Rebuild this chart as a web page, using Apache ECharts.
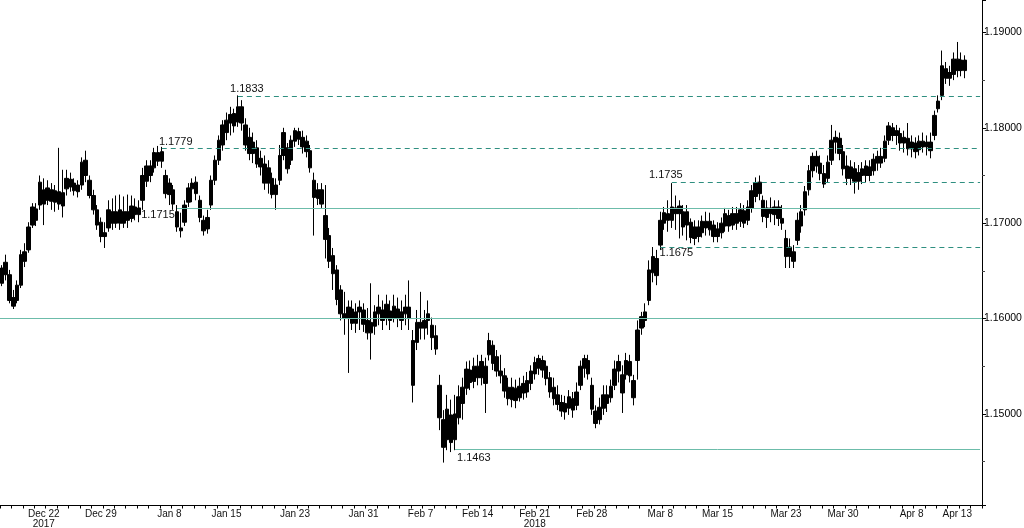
<!DOCTYPE html>
<html><head><meta charset="utf-8">
<script src="https://cdn.jsdelivr.net/npm/echarts@6/dist/echarts.min.js"></script>
<style>html,body{margin:0;padding:0;background:#fff;overflow:hidden}#c{width:1024px;height:528px}</style>
</head><body><div id="c"></div>
<script>
// ---- data ----
const opens=[
1.1637,1.1659,1.1646,1.1622,1.1619,1.1635,1.1660,1.1672,1.1698,1.1715,
1.1719,1.1735,1.1724,1.1735,1.1722,1.1733,1.1718,1.1736,1.1746,1.1742,
1.1733,1.1740,1.1766,1.1745,1.1729,1.1714,1.1701,1.1686,1.1695,1.1712,
1.1700,1.1714,1.1700,1.1712,1.1705,1.1717,1.1709,1.1724,1.1744,1.1760,
1.1758,1.1774,1.1765,1.1750,1.1730,1.1735,1.1712,1.1695,1.1701,1.1722,
1.1736,1.1743,1.1724,1.1703,1.1694,1.1719,1.1745,1.1766,1.1782,1.1795,
1.1805,1.1815,1.1806,1.1822,1.1803,1.1790,1.1773,1.1779,1.1768,1.1762,
1.1742,1.1747,1.1730,1.1745,1.1771,1.1779,1.1766,1.1786,1.1796,1.1790,
1.1786,1.1776,1.1745,1.1726,1.1735,1.1708,1.1687,1.1666,1.1651,1.1630,
1.1605,1.1600,1.1610,1.1595,1.1607,1.1609,1.1598,1.1585,1.1592,1.1605,
1.1609,1.1600,1.1608,1.1600,1.1610,1.1598,1.1605,1.1612,1.1577,1.1575,
1.1596,1.1590,1.1598,1.1593,1.1582,1.1530,1.1494,1.1473,1.1499,1.1473,
1.1496,1.1511,1.1527,1.1546,1.1534,1.1550,1.1538,1.1550,1.1562,1.1572,
1.1560,1.1545,1.1540,1.1528,1.1515,1.1527,1.1517,1.1522,1.1523,1.1532,
1.1542,1.1548,1.1556,1.1550,1.1538,1.1528,1.1520,1.1512,1.1502,1.1506,
1.1516,1.1509,1.1530,1.1548,1.1556,1.1530,1.1503,1.1494,1.1506,1.1520,
1.1517,1.1530,1.1545,1.1541,1.1541,1.1555,1.1535,1.1556,1.1590,1.1598,
1.1619,1.1648,1.1663,1.1677,1.1700,1.1710,1.1703,1.1716,1.1710,1.1712,
1.1698,1.1701,1.1684,1.1696,1.1690,1.1702,1.1693,1.1698,1.1686,1.1690,
1.1697,1.1708,1.1698,1.1710,1.1702,1.1713,1.1703,1.1716,1.1728,1.1743,
1.1724,1.1706,1.1716,1.1709,1.1717,1.1705,1.1684,1.1665,1.1670,1.1682,
1.1697,1.1714,1.1735,1.1755,1.1770,1.1763,1.1752,1.1747,1.1766,1.1785,
1.1789,1.1775,1.1760,1.1747,1.1757,1.1744,1.1750,1.1750,1.1759,1.1755,
1.1763,1.1770,1.1768,1.1787,1.1800,1.1792,1.1794,1.1784,1.1789,1.1778,
1.1784,1.1777,1.1786,1.1780,1.1785,1.1792,1.1820,1.1834,1.1862,1.1852,
1.1856,1.1872,1.1860,1.1871];
const closes=[
1.1653,1.1646,1.1619,1.1613,1.1635,1.1667,1.1670,1.1696,1.1717,1.1703,
1.1743,1.1720,1.1737,1.1723,1.1734,1.1720,1.1732,1.1747,1.1738,1.1734,
1.1740,1.1764,1.1750,1.1729,1.1714,1.1698,1.1686,1.1690,1.1714,1.1700,
1.1712,1.1700,1.1712,1.1703,1.1718,1.1709,1.1716,1.1750,1.1760,1.1750,
1.1774,1.1765,1.1775,1.1731,1.1742,1.1720,1.1696,1.1692,1.1719,1.1737,
1.1742,1.1731,1.1706,1.1692,1.1706,1.1745,1.1766,1.1787,1.1803,1.1808,
1.1814,1.1802,1.1822,1.1805,1.1782,1.1773,1.1785,1.1762,1.1759,1.1742,
1.1758,1.1730,1.1740,1.1771,1.1795,1.1757,1.1787,1.1797,1.1788,1.1780,
1.1775,1.1758,1.1727,1.1735,1.1720,1.1683,1.1660,1.1647,1.1620,1.1605,
1.1600,1.1612,1.1595,1.1607,1.1612,1.1594,1.1585,1.1596,1.1607,1.1612,
1.1598,1.1615,1.1598,1.1613,1.1600,1.1607,1.1612,1.1600,1.1530,1.1596,
1.1590,1.1598,1.1605,1.1580,1.1568,1.1496,1.1465,1.1505,1.1470,1.1500,
1.1518,1.1528,1.1547,1.1533,1.1550,1.1538,1.1555,1.1532,1.1577,1.1553,
1.1545,1.1540,1.1524,1.1516,1.1528,1.1514,1.1529,1.1532,1.1535,1.1545,
1.1554,1.1558,1.1546,1.1537,1.1523,1.1516,1.1510,1.1503,1.1511,1.1518,
1.1504,1.1523,1.1550,1.1558,1.1542,1.1505,1.1490,1.1507,1.1520,1.1511,
1.1529,1.1547,1.1555,1.1522,1.1556,1.1540,1.1517,1.1588,1.1602,1.1607,
1.1651,1.1665,1.1645,1.1703,1.1711,1.1703,1.1717,1.1710,1.1718,1.1696,
1.1712,1.1685,1.1696,1.1686,1.1702,1.1695,1.1702,1.1686,1.1694,1.1700,
1.1710,1.1697,1.1710,1.1700,1.1714,1.1700,1.1717,1.1734,1.1742,1.1731,
1.1707,1.1716,1.1710,1.1717,1.1705,1.1700,1.1665,1.1675,1.1660,1.1703,
1.1712,1.1733,1.1755,1.1770,1.1760,1.1752,1.1741,1.1764,1.1787,1.1790,
1.1773,1.1757,1.1747,1.1759,1.1744,1.1753,1.1757,1.1760,1.1750,1.1767,
1.1770,1.1763,1.1786,1.1802,1.1792,1.1797,1.1784,1.1790,1.1778,1.1785,
1.1775,1.1786,1.1780,1.1785,1.1776,1.1813,1.1828,1.1865,1.1852,1.1858,
1.1872,1.1860,1.1871,1.1860];
const lows=[
1.1634,1.1640,1.1616,1.1610,1.1616,1.1632,1.1654,1.1669,1.1695,1.1697,
1.1714,1.1698,1.1719,1.1714,1.1712,1.1714,1.1706,1.1729,1.1733,1.1729,
1.1727,1.1735,1.1743,1.1726,1.1709,1.1693,1.1680,1.1674,1.1691,1.1693,
1.1695,1.1693,1.1695,1.1695,1.1701,1.1703,1.1701,1.1714,1.1738,1.1743,
1.1753,1.1760,1.1758,1.1726,1.1719,1.1714,1.1691,1.1685,1.1697,1.1717,
1.1722,1.1724,1.1701,1.1687,1.1689,1.1714,1.1740,1.1761,1.1776,1.1787,
1.1792,1.1795,1.1801,1.1797,1.1776,1.1766,1.1763,1.1758,1.1750,1.1735,
1.1731,1.1726,1.1714,1.1740,1.1766,1.1752,1.1761,1.1780,1.1782,1.1773,
1.1769,1.1753,1.1687,1.1719,1.1716,1.1663,1.1653,1.1630,1.1614,1.1598,
1.1583,1.1543,1.1588,1.1585,1.1588,1.1586,1.1578,1.1557,1.1583,1.1593,
1.1588,1.1593,1.1588,1.1596,1.1591,1.1588,1.1593,1.1588,1.1512,1.1567,
1.1578,1.1578,1.1583,1.1567,1.1562,1.1483,1.1449,1.1462,1.1460,1.1462,
1.1489,1.1494,1.1520,1.1525,1.1527,1.1530,1.1530,1.1501,1.1556,1.1546,
1.1539,1.1532,1.1517,1.1509,1.1507,1.1506,1.1513,1.1515,1.1517,1.1525,
1.1536,1.1541,1.1538,1.1530,1.1517,1.1509,1.1504,1.1497,1.1494,1.1499,
1.1496,1.1504,1.1525,1.1538,1.1536,1.1499,1.1485,1.1489,1.1499,1.1502,
1.1512,1.1525,1.1533,1.1501,1.1536,1.1533,1.1509,1.1536,1.1583,1.1591,
1.1614,1.1638,1.1635,1.1672,1.1693,1.1691,1.1695,1.1693,1.1684,1.1687,
1.1682,1.1679,1.1677,1.1680,1.1685,1.1687,1.1687,1.1680,1.1680,1.1684,
1.1691,1.1691,1.1693,1.1693,1.1696,1.1695,1.1698,1.1711,1.1722,1.1724,
1.1701,1.1695,1.1701,1.1698,1.1697,1.1693,1.1653,1.1653,1.1653,1.1677,
1.1690,1.1708,1.1729,1.1748,1.1753,1.1745,1.1737,1.1743,1.1761,1.1773,
1.1766,1.1750,1.1740,1.1740,1.1731,1.1735,1.1741,1.1743,1.1744,1.1750,
1.1755,1.1758,1.1764,1.1782,1.1786,1.1782,1.1776,1.1774,1.1771,1.1769,
1.1768,1.1771,1.1774,1.1771,1.1768,1.1787,1.1816,1.1829,1.1846,1.1844,
1.1850,1.1853,1.1854,1.1852];
const highs=[
1.1656,1.1667,1.1651,1.1630,1.1640,1.1672,1.1679,1.1701,1.1721,1.1721,
1.1750,1.1747,1.1745,1.1742,1.1740,1.1779,1.1756,1.1756,1.1753,1.1747,
1.1745,1.1769,1.1776,1.1750,1.1735,1.1719,1.1706,1.1701,1.1724,1.1726,
1.1729,1.1730,1.1728,1.1730,1.1729,1.1726,1.1724,1.1758,1.1766,1.1766,
1.1779,1.1781,1.1780,1.1756,1.1747,1.1740,1.1719,1.1711,1.1724,1.1742,
1.1747,1.1749,1.1729,1.1708,1.1714,1.1750,1.1771,1.1792,1.1808,1.1816,
1.1822,1.1820,1.1834,1.1829,1.1810,1.1800,1.1795,1.1787,1.1776,1.1771,
1.1766,1.1753,1.1747,1.1782,1.1800,1.1784,1.1792,1.1800,1.1800,1.1797,
1.1792,1.1782,1.1753,1.1742,1.1742,1.1740,1.1695,1.1674,1.1656,1.1635,
1.1628,1.1619,1.1619,1.1616,1.1619,1.1616,1.1611,1.1637,1.1614,1.1625,
1.1619,1.1625,1.1619,1.1625,1.1622,1.1619,1.1625,1.1640,1.1588,1.1609,
1.1628,1.1609,1.1619,1.1601,1.1593,1.1541,1.1504,1.1520,1.1515,1.1520,
1.1530,1.1538,1.1555,1.1556,1.1559,1.1562,1.1562,1.1559,1.1585,1.1577,
1.1567,1.1562,1.1548,1.1538,1.1538,1.1536,1.1538,1.1540,1.1544,1.1551,
1.1560,1.1562,1.1561,1.1556,1.1544,1.1538,1.1530,1.1520,1.1519,1.1525,
1.1523,1.1533,1.1556,1.1562,1.1562,1.1538,1.1509,1.1517,1.1530,1.1530,
1.1536,1.1556,1.1562,1.1551,1.1564,1.1562,1.1541,1.1598,1.1607,1.1616,
1.1661,1.1675,1.1672,1.1712,1.1717,1.1724,1.1742,1.1729,1.1724,1.1719,
1.1719,1.1705,1.1703,1.1703,1.1708,1.1712,1.1711,1.1703,1.1701,1.1706,
1.1716,1.1714,1.1717,1.1717,1.1721,1.1719,1.1724,1.1740,1.1748,1.1750,
1.1729,1.1724,1.1727,1.1724,1.1724,1.1719,1.1693,1.1684,1.1677,1.1711,
1.1719,1.1739,1.1761,1.1774,1.1776,1.1771,1.1761,1.1771,1.1803,1.1797,
1.1795,1.1782,1.1771,1.1766,1.1764,1.1761,1.1764,1.1766,1.1766,1.1773,
1.1776,1.1779,1.1792,1.1806,1.1805,1.1803,1.1800,1.1797,1.1805,1.1792,
1.1790,1.1792,1.1795,1.1792,1.1795,1.1818,1.1834,1.1881,1.1869,1.1865,
1.1879,1.1890,1.1879,1.1876];
const lastPrice = 1.18598;

// time axis: 86 FX trading days, 3 bars per day
const barsPerDay = 3;
const dayCount = 86;
const tickDayIndex = [4,9,15,20,26,32,37,42,47,52,58,63,69,74,80,84];
const tickLabels = ['Dec 22','Dec 29','Jan 8','Jan 15','Jan 23','Jan 31','Feb 7','Feb 14','Feb 21','Feb 28','Mar 8','Mar 15','Mar 23','Mar 30','Apr 8','Apr 13'];
const yearLabels = {'Dec 22':'2017','Feb 21':'2018'};

// support / resistance levels (line positions as drawn in the picture)
const levelValues = [1.1833, 1.1779, 1.17154, 1.1600, 1.14628, 1.1743, 1.1675];
const levelTexts  = ['1.1833','1.1779','1.1715','','1.1463','1.1735','1.1675'];
const levelStartBar = [62, 42, 46, null, 119, 176, 173];
const levelDashed = [true, true, false, false, false, true, true];

// ---- build ----
const categories = [];
for (let d = 0; d < dayCount; d++) for (let k = 0; k < barsPerDay; k++) categories.push('d' + d + 'b' + k);
const labelCat = {};
tickDayIndex.forEach((d, j) => { labelCat[d * barsPerDay - 1] = tickLabels[j]; });
const candles = opens.map((o, i) => [o, closes[i], lows[i], highs[i]]);
const lastCat = categories.length - 1;

const labelOffsets = [[9,-7],[14,-6],[-19,6],null,[19,9],[-6,-7],[16,6]];
const markLines = [];
const markPoints = [];
levelValues.forEach((v, j) => {
  const ls = levelDashed[j]
    ? {color:'#2f8f80', width:1, type:[5,4]}
    : {color:'#6cbcaa', width:1, type:'solid'};
  if (levelStartBar[j] === null) {
    markLines.push({yAxis: v, lineStyle: ls, label:{show:false}});
  } else {
    markLines.push([{coord:[levelStartBar[j], v], lineStyle: ls, label:{show:false}}, {coord:[lastCat, v]}]);
    markPoints.push({name: levelTexts[j], coord:[levelStartBar[j], v], label:{offset: labelOffsets[j]}});
  }
});
markLines.push({yAxis: lastPrice, lineStyle:{opacity:0, width:0}, label:{
  show:true, position:'end', distance:2, formatter: () => lastPrice.toFixed(5),
  backgroundColor:'#000', color:'#fff', padding:[3,3,3,4], borderRadius:3,
  fontFamily:'Liberation Sans', fontSize:10.5, fontWeight:'bold'}});

const chart = echarts.init(document.getElementById('c'), null, {renderer:'canvas'});
chart.setOption({
  animation:false,
  backgroundColor:'#fff',
  grid:{left:0, right:42, top:0, bottom:22.5, containLabel:false, outerBoundsMode:'none'},
  xAxis:{
    type:'category', data:categories, boundaryGap:true,
    axisLine:{show:true, onZero:false, lineStyle:{color:'#000', width:1}},
    axisTick:{show:true, length:3, interval:(i) => i % barsPerDay === 0, lineStyle:{color:'#000'}},
    axisLabel:{
      show:true, interval:(i) => labelCat[i] !== undefined,
      formatter:(v, i) => { const t = labelCat[i]; if (!t) return ''; return yearLabels[t] ? t + '\n' + yearLabels[t] : t; },
      color:'#111', fontFamily:'Liberation Sans', fontSize:10, lineHeight:10.5, margin:3, hideOverlap:false
    },
    splitLine:{show:false}
  },
  yAxis:{
    type:'value', position:'right', min:1.1404, max:1.1934, scale:true,
    axisLine:{show:true, lineStyle:{color:'#000', width:1}},
    axisTick:{show:true, length:4, lineStyle:{color:'#000'}},
    minorTick:{show:true, splitNumber:2, length:3, lineStyle:{color:'#444'}},
    splitLine:{show:false}, minorSplitLine:{show:false},
    axisLabel:{color:'#000', fontFamily:'Liberation Sans', fontSize:10.5, margin:2,
      showMinLabel:false, showMaxLabel:false, formatter:(v) => v.toFixed(5)}
  },
  series:[{
    type:'candlestick', data:candles, barWidth:4, large:false,
    itemStyle:{color:'#000', color0:'#000', borderColor:'#000', borderColor0:'#000', borderWidth:1},
    markLine:{silent:true, symbol:['none','none'], animation:false, precision:5, data:markLines},
    markPoint:{silent:true, symbol:'circle', symbolSize:1, animation:false,
      itemStyle:{color:'rgba(0,0,0,0)'},
      label:{show:true, position:'inside', formatter:(p) => p.name, color:'#111',
        fontFamily:'Liberation Sans', fontSize:11},
      data:markPoints}
  }]
});
</script></body></html>
